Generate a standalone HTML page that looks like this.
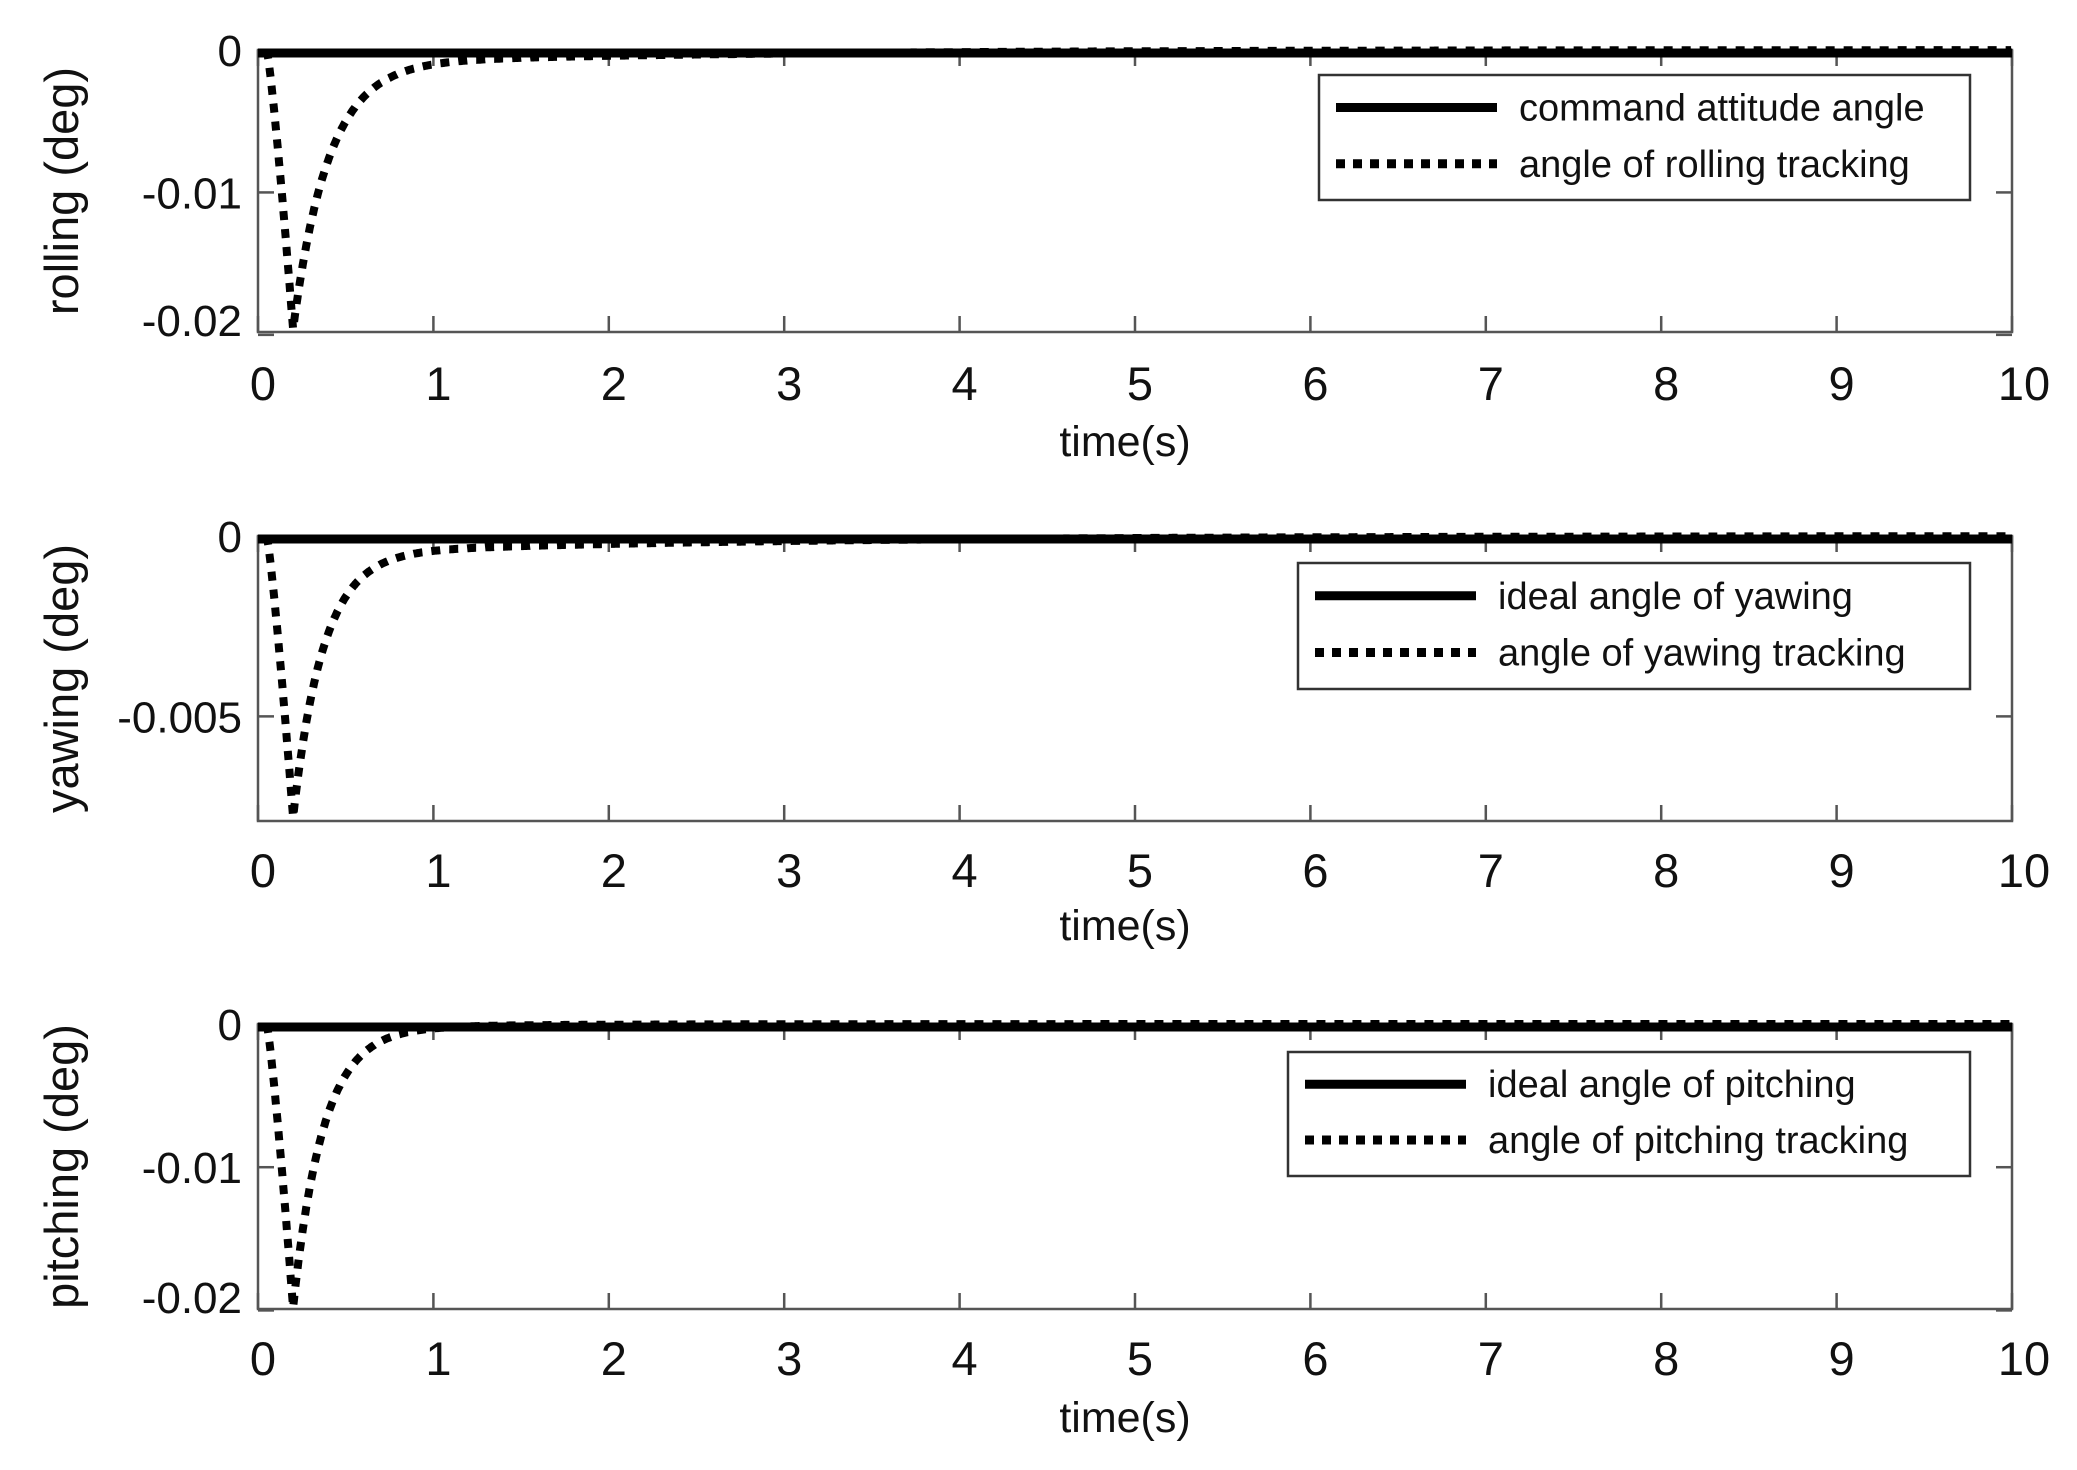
<!DOCTYPE html>
<html><head><meta charset="utf-8"><style>
html,body{margin:0;padding:0;background:#fff;}
svg{display:block;}
text{font-family:"Liberation Sans",sans-serif;fill:#111;}
</style></head><body>
<svg id="s" width="2077" height="1470" xmlns="http://www.w3.org/2000/svg"></svg>
<script>
const s=document.getElementById('s');
let h='';
const L=258,R=2012;
const X=t=>L+t*(R-L)/10;
const panels=[
 {top:50,bot:332,ymin:-0.0198,peak:-0.0196,tail:0.0010,tt:2.0,tau:0.2,yt:[[0,'0'],[-0.01,'-0.01'],[-0.02,'-0.02']],yl:'rolling  (deg)',tl:383,xl:441,
  leg:[1319,75,1970,200],l1:'command attitude angle',l2:'angle of rolling tracking'},
 {top:536,bot:821,ymin:-0.0079,peak:-0.0078,tail:0.0005,tt:2.2,tau:0.17,yt:[[0,'0'],[-0.005,'-0.005']],yl:'yawing  (deg)',tl:870,xl:925,
  leg:[1298,563,1970,689],l1:'ideal angle of yawing',l2:'angle of yawing tracking'},
 {top:1024,bot:1309,ymin:-0.0199,peak:-0.0198,tail:0.0003,tt:1.0,tau:0.17,yt:[[0,'0'],[-0.01,'-0.01'],[-0.02,'-0.02']],yl:'pitching  (deg)',tl:1358,xl:1417,
  leg:[1288,1052,1970,1176],l1:'ideal angle of pitching',l2:'angle of pitching tracking'}
];
for(const p of panels){
 const Y=v=>p.top+(v/p.ymin)*(p.bot-p.top);
 h+=`<rect x="${L}" y="${p.top}" width="${R-L}" height="${p.bot-p.top}" fill="none" stroke="#555" stroke-width="2.5"/>`;
 for(let i=0;i<=10;i++){const x=X(i);
  h+=`<line x1="${x}" y1="${p.bot}" x2="${x}" y2="${p.bot-16}" stroke="#555" stroke-width="2.5"/><line x1="${x}" y1="${p.top}" x2="${x}" y2="${p.top+16}" stroke="#555" stroke-width="2.5"/>`;
  h+=`<text x="${x+(i==10?12:5)}" y="${p.tl+17}" font-size="47" text-anchor="middle">${i}</text>`;}
 for(const [v,lab] of p.yt){const y=Y(v);
  if(v!==0){h+=`<line x1="${L}" y1="${y}" x2="${L+16}" y2="${y}" stroke="#555" stroke-width="2.5"/><line x1="${R}" y1="${y}" x2="${R-16}" y2="${y}" stroke="#555" stroke-width="2.5"/>`;}
  h+=`<text x="${L-16}" y="${Math.min(y+16,p.bot+4)}" font-size="44" text-anchor="end">${lab}</text>`;}
 h+=`<text x="${X(5)-10}" y="${p.xl+15}" font-size="43" text-anchor="middle">time(s)</text>`;
 h+=`<text transform="translate(78,${(p.top+p.bot)/2}) rotate(-90)" font-size="47" text-anchor="middle">${p.yl}</text>`;
 let d='';
 for(let t=0.05;t<=10;t+=0.005){
  let v;
  if(t<0.2){const u=(t-0.05)/0.15;v=p.peak*Math.pow(u,1.2);}
  else{const u=t-0.2;v=(p.peak+p.tail)*Math.exp(-u/p.tau)-p.tail*Math.exp(-u/p.tt);}
  d+=(d?'L':'M')+X(t).toFixed(1)+','+Y(v).toFixed(1);
 }
 h+=`<path d="${d}" fill="none" stroke="#000" stroke-width="8" stroke-dasharray="9,9"/>`;
 h+=`<line x1="${L}" y1="${p.top+3}" x2="${R}" y2="${p.top+3}" stroke="#000" stroke-width="9"/>`;
 const [a,b,c,e]=p.leg;
 h+=`<rect x="${a}" y="${b}" width="${c-a}" height="${e-b}" fill="#fff" stroke="#333" stroke-width="2.5"/>`;
 const r1=b+(e-b)*0.26,r2=b+(e-b)*0.71;
 h+=`<line x1="${a+17}" y1="${r1}" x2="${a+178}" y2="${r1}" stroke="#000" stroke-width="9"/>`;
 h+=`<line x1="${a+17}" y1="${r2}" x2="${a+178}" y2="${r2}" stroke="#000" stroke-width="9" stroke-dasharray="9,8"/>`;
 h+=`<text x="${a+200}" y="${r1+13}" font-size="38">${p.l1}</text>`;
 h+=`<text x="${a+200}" y="${r2+13}" font-size="38">${p.l2}</text>`;
}
s.innerHTML=h;
</script>
</body></html>
